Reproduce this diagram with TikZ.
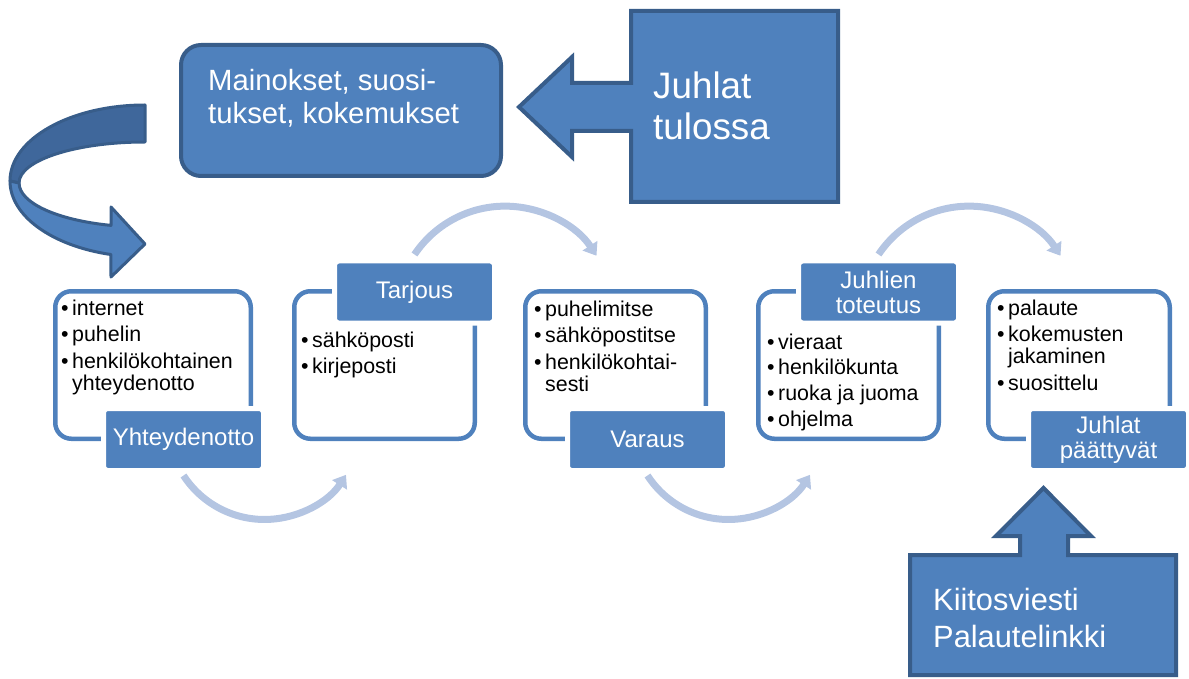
\documentclass[tikz,border=0pt]{standalone}
\usepackage{fontspec}
\setmainfont{Liberation Sans}
\usetikzlibrary{arrows.meta}
\definecolor{blu}{RGB}{79,129,189}
\definecolor{dkb}{RGB}{56,93,138}
\definecolor{lgt}{RGB}{180,197,226}
\definecolor{backrib}{RGB}{63,103,155}
\newcommand{\fs}[2]{\fontsize{#1}{#2}\selectfont}
\newcommand{\blist}[1]{\fs{21.4}{21.5}\begin{tabular}[t]{@{}l@{\hspace{3.5pt}}l@{}}#1\end{tabular}}
\begin{document}
\begin{tikzpicture}[x=1pt,y=1pt,
  bigshape/.style={fill=blu, draw=dkb, line width=4pt, line join=miter},
  procbox/.style={draw=blu, fill=white, line width=4.5pt, rounded corners=16pt, inner sep=0, minimum height=147.5pt},
  lab/.style={fill=blu, draw=white, line width=5pt, rounded corners=4pt, minimum width=160pt, minimum height=62pt, inner sep=0, text=white, align=center, font=\fs{24}{25}},
  txt/.style={anchor=base west, inner sep=0},
  wtxt/.style={anchor=base west, inner sep=0, text=white},
  flow/.style={draw=lgt, line width=7pt, -{Triangle[length=12pt,width=17pt]}}
]
\useasboundingbox (0,0) rectangle (1189,-679);

% curved U-turn arrow (top left)
\path[fill=backrib, draw=dkb, line width=3pt, line join=round]
  (145,-105) arc[start angle=90, end angle=180, x radius=135, y radius=76]
  -- (19,-183) arc[start angle=180, end angle=90, x radius=126, y radius=41] -- cycle;
\path[fill=blu, draw=dkb, line width=3pt, line join=round]
  (10,-181) arc[start angle=180, end angle=255.4, x radius=135, y radius=76]
  -- (111,-277) -- (145,-244) -- (111,-207) -- (111,-225.4)
  arc[start angle=254.3, end angle=180, x radius=126, y radius=44] -- cycle;

% Mainokset box
\node[fill=blu, draw=dkb, line width=4pt, rounded corners=20pt, minimum width=320pt, minimum height=131pt, inner sep=0] (mai) at (341,-110.5) {};
\node[wtxt] (maitxt) at (208,-90.7) {\fs{29.3}{33.3}\begin{tabular}[t]{@{}l@{}}Mainokset, suosi-\\tukset, kokemukset\end{tabular}};

% Juhlat tulossa callout
\path[bigshape] (631,-11) -- (838,-11) -- (838,-202) -- (631,-202) -- (631,-131) -- (572,-131)
  -- (572,-157) -- (519,-107) -- (572,-57) -- (572,-83) -- (631,-83) -- cycle;
\node[wtxt] (jt) at (653,-99) {\fs{36.8}{41}\begin{tabular}[t]{@{}l@{}}Juhlat\\tulossa\end{tabular}};

% process boxes
\node[procbox, minimum width=195.5pt] (b1) at (153,-365) {};
\node[procbox, minimum width=180.5pt] (b2) at (384.5,-365) {};
\node[procbox, minimum width=180.5pt] (b3) at (615.5,-365) {};
\node[procbox, minimum width=180.5pt] (b4) at (848.5,-365) {};
\node[procbox, minimum width=181.5pt] (b5) at (1079,-365) {};

% box texts
\node[txt] (t1) at (61,-315) {\blist{\textbullet & internet\\[5pt] \textbullet & puhelin\\[5pt] \textbullet & henkilökohtainen\\ & yhteydenotto}};
\node[txt] (t2) at (301,-347) {\blist{\textbullet & sähköposti\\[5pt] \textbullet & kirjeposti}};
\node[txt] (t3) at (534,-316) {\blist{\textbullet & puhelimitse\\[5pt] \textbullet & sähköpostitse\\[5pt] \textbullet & henkilökohtai-\\ & sesti}};
\node[txt] (t4) at (767,-349) {\blist{\textbullet & vieraat\\[4pt] \textbullet & henkilökunta\\[4pt] \textbullet & ruoka ja juoma\\[4pt] \textbullet & ohjelma}};
\node[txt] (t5) at (997,-315) {\blist{\textbullet & palaute\\[5pt] \textbullet & kokemusten\\ & jakaminen\\[5pt] \textbullet & suosittelu}};

% labels
\node[lab] (l1) at (183.5,-439.5) {Yhteydenotto};
\node[lab] (l2) at (414.5,-292) {Tarjous};
\node[lab] (l3) at (647.5,-439.5) {Varaus};
\node[lab] (l4) at (878.5,-292) {Juhlien\\toteutus};
\node[lab] (l5) at (1108.5,-439.5) {Juhlat\\päättyvät};

% flow arcs
\draw[flow] ([yshift=-2.5pt]l1.south) arc[start angle=213, end angle=327.5, radius=96.6];
\draw[flow] ([yshift=4pt]l2.north) arc[start angle=146.2, end angle=33, radius=109];
\draw[flow] ([yshift=-2.5pt]l3.south) arc[start angle=213, end angle=327.5, radius=96.6];
\draw[flow] ([yshift=4pt]l4.north) arc[start angle=146.2, end angle=33, radius=109];

% Kiitosviesti callout
\path[bigshape] (910,-555) -- (1020,-555) -- (1020,-536) -- (996,-536) -- (1043.5,-488)
  -- (1091,-536) -- (1068,-536) -- (1068,-555) -- (1176,-555) -- (1176,-675) -- (910,-675) -- cycle;
\node[wtxt] (kt) at (933,-610) {\fs{30.8}{37}\begin{tabular}[t]{@{}l@{}}Kiitosviesti\\Palautelinkki\end{tabular}};
\end{tikzpicture}
\end{document}
